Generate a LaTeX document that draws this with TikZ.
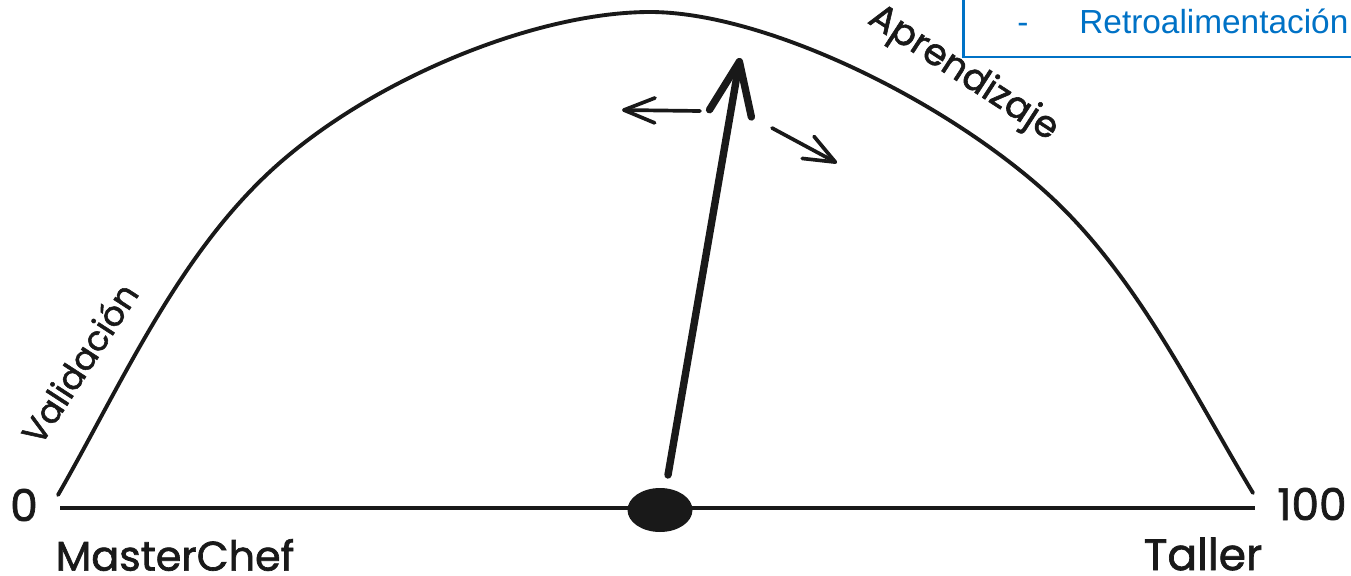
\documentclass[tikz,border=0pt]{standalone}
\usepackage{fontspec}
\usepackage{xcolor}
\usepackage{tikz}
\usetikzlibrary{arrows.meta,shapes.geometric}
\newfontfamily\mano{Poppins}[FakeBold=1.6]
\newfontfamily\nota{Liberation Sans}
\definecolor{azul}{RGB}{0,114,198}
\definecolor{tinta}{RGB}{25,25,25}

\begin{document}
\begin{tikzpicture}[x=0.02cm, y=-0.02cm,
  lbl/.style={inner sep=0pt, text=tinta, font=\mano\fontsize{#1}{#1}\selectfont},
  flecha/.style={draw=tinta, line width=2.1pt, line cap=round,
                 -{Straight Barb[length=0.62cm, width=0.5cm, round]}}]
\useasboundingbox (0,0) rectangle (1351,575);
% recuadro azul (cortado por el borde)
\draw[azul, line width=1.7pt] (963,-20) -- (963,57) -- (1380,57);
\node[inner sep=0pt, text=azul, font=\nota\fontsize{19}{22}\selectfont, anchor=base west] (guion) at (1017,33) {-};
\node[inner sep=0pt, text=azul, font=\nota\fontsize{19}{22}\selectfont, anchor=base west] (retro) at (1079,33) {Retroalimentación};
% arco del medidor
\draw[tinta, line width=2.2pt, line cap=round]
  (58,495) .. controls (124.6,378.7) and (181.3,247.2) .. (283,160)
           .. controls (383.2,74.1) and (540,12) .. (650,12)
           .. controls (760,12) and (933,93.6) .. (1040,187)
           .. controls (1133.4,268.6) and (1189.1,386.7) .. (1253,493);
% base y pivote
\coordinate (izq) at (60,508);
\coordinate (der) at (1255,508);
\draw[tinta, line width=2.8pt] (izq) -- (der);
\node[ellipse, fill=tinta, minimum width=1.3cm, minimum height=0.88cm, inner sep=0pt] (pivote) at (660,510) {};
% aguja
\coordinate (aguja) at (668,475);
\coordinate (punta) at (740,58);
\draw[tinta, line width=4.2pt, line cap=round,
  -{Straight Barb[length=1.05cm, width=0.85cm, round]}] (aguja) -- (punta);
% flechas pequenas
\coordinate (a1) at (700,111);
\coordinate (a2) at (622,110);
\coordinate (b1) at (772,128);
\coordinate (b2) at (837,163);
\draw[flecha] (a1) -- (a2);
\draw[flecha] (b1) -- (b2);
% textos
\node[lbl=25] (cero) at (24,505) {0};
\node[lbl=25] (cien) at (1312,504) {100};
\node[lbl=23.5] (master) at (175,555) {MasterChef};
\node[lbl=25] (taller) at (1203,554) {Taller};
\node[lbl=19.5, rotate=57] (valid) at (79,363) {Validación};
\node[lbl=21, rotate=-33] (apren) at (963,74) {Aprendizaje};
\end{tikzpicture}
\end{document}
